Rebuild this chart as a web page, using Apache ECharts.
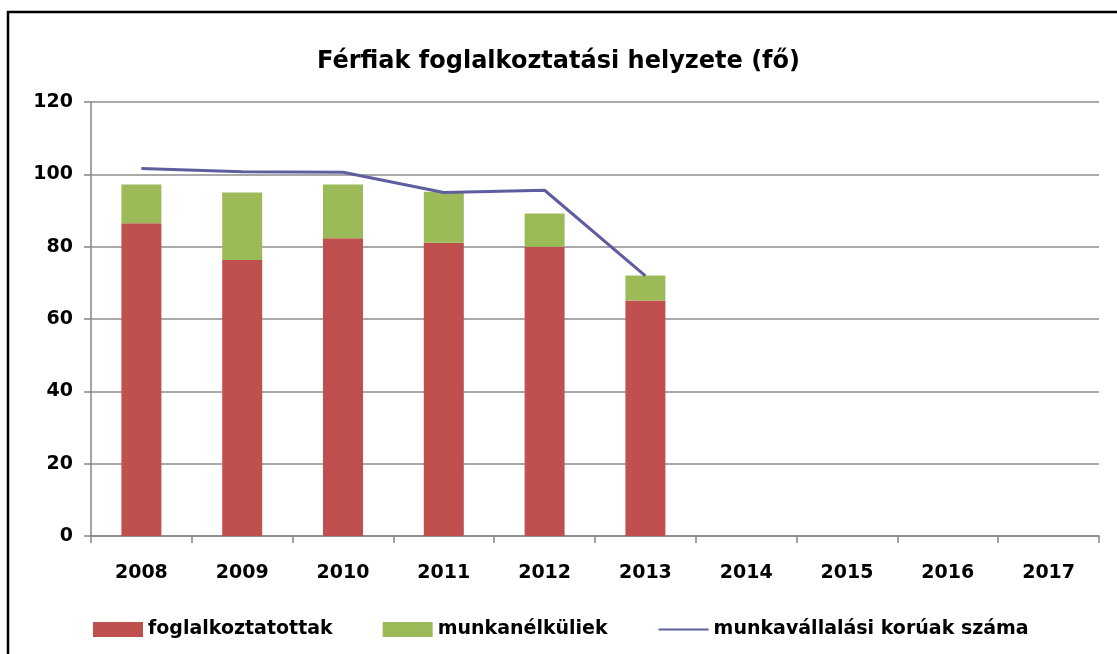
<!DOCTYPE html>
<html>
<head>
    <meta charset="utf-8">
    <title>Férfiak foglalkoztatási helyzete</title>
    <style type="text/css">
        body {
            margin: 0;
            background: #fff;
        }
        html, body, #chart {
            height: 100%;
        }
    </style>
</head>
<body>

    <div id="chart"></div>
    <script src="https://cdn.jsdelivr.net/npm/echarts@6/dist/echarts.min.js"></script>

    <script>
        var years = ['2008', '2009', '2010', '2011', '2012', '2013', '2014', '2015', '2016', '2017'];
        var employed = [86.5, 76.3, 82.3, 81.1, 80.0, 65.1, null, null, null, null];
        var unemployed = [10.7, 18.7, 14.9, 14.1, 9.2, 6.9, null, null, null, null];
        var workingAge = [101.6, 100.7, 100.6, 95.0, 95.6, 71.9, null, null, null, null];

        var font = 'DejaVu Sans';
        var chart = echarts.init(document.getElementById('chart'));

        chart.setOption({
            animation: false,
            title: {
                text: 'Férfiak foglalkoztatási helyzete (fő)',
                left: 'center',
                top: 45,
                textStyle: {
                    fontFamily: font,
                    fontWeight: 'bold',
                    fontSize: 24,
                    color: '#000'
                }
            },
            // frame on the left and top edge, as in the original
            graphic: [{
                type: 'polyline',
                shape: { points: [[8, 654], [8, 12], [1117, 12]] },
                style: { stroke: '#000', lineWidth: 2.5, fill: null }
            }],
            legend: {
                left: 88,
                top: 615,
                itemWidth: 50,
                itemHeight: 15,
                itemGap: 50,
                textStyle: {
                    fontFamily: font,
                    fontWeight: 'bold',
                    fontSize: 19,
                    color: '#000'
                },
                data: [
                    { name: 'foglalkoztatottak', icon: 'rect' },
                    { name: 'munkanélküliek', icon: 'rect' },
                    {
                        name: 'munkavállalási korúak száma',
                        itemStyle: { color: 'rgba(0,0,0,0)', borderWidth: 0 }
                    }
                ]
            },
            grid: {
                left: 91,
                right: 18,
                top: 102,
                bottom: 118
            },
            xAxis: {
                type: 'category',
                data: years,
                axisLine: { lineStyle: { color: '#868686', width: 1.5 } },
                axisTick: { show: true, length: 7, lineStyle: { color: '#868686', width: 1.5 } },
                axisLabel: {
                    margin: 28,
                    fontFamily: font,
                    fontWeight: 'bold',
                    fontSize: 19,
                    color: '#000'
                }
            },
            yAxis: {
                type: 'value',
                min: 0,
                max: 120,
                interval: 20,
                axisLine: { show: true, lineStyle: { color: '#868686', width: 1.5 } },
                axisTick: { show: true, length: 7, lineStyle: { color: '#868686', width: 1.5 } },
                splitLine: { lineStyle: { color: '#8c8c8c', width: 1.5 } },
                axisLabel: {
                    margin: 18,
                    fontFamily: font,
                    fontWeight: 'bold',
                    fontSize: 19,
                    color: '#000'
                }
            },
            series: [
                {
                    name: 'foglalkoztatottak',
                    type: 'bar',
                    stack: 'total',
                    barWidth: 40,
                    itemStyle: { color: '#C0504D' },
                    data: employed
                },
                {
                    name: 'munkanélküliek',
                    type: 'bar',
                    stack: 'total',
                    barWidth: 40,
                    itemStyle: { color: '#9BBB59' },
                    data: unemployed
                },
                {
                    name: 'munkavállalási korúak száma',
                    type: 'line',
                    symbol: 'none',
                    lineStyle: { color: '#5E5E9F', width: 3 },
                    itemStyle: { color: '#5E5E9F' },
                    data: workingAge
                }
            ]
        });

        window.addEventListener('resize', function () {
            chart.resize();
        });
    </script>
</body>
</html>
